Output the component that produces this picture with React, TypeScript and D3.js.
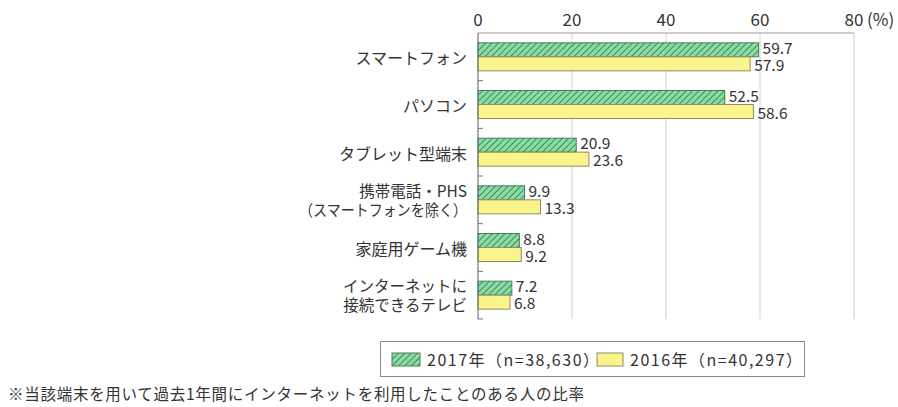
import React from "react";
import * as d3 from "d3";

const categories: string[][] = [
  ["スマートフォン"],
  ["パソコン"],
  ["タブレット型端末"],
  ["携帯電話・PHS", "（スマートフォンを除く）"],
  ["家庭用ゲーム機"],
  ["インターネットに", "接続できるテレビ"],
];
const values2017 = [59.7, 52.5, 20.9, 9.9, 8.8, 7.2];
const values2016 = [57.9, 58.6, 23.6, 13.3, 9.2, 6.8];
const xTicks = [0, 20, 40, 60, 80];
const legendLabels = ["2017年（n=38,630）", "2016年（n=40,297）"];
const footnote = "※当該端末を用いて過去1年間にインターネットを利用したことのある人の比率";

const W = 898;
const H = 407;
const FONT = "'Noto Sans CJK JP', 'Noto Sans', sans-serif";
const TEXT = "#333";

export default function App() {
  const x = d3.scaleLinear().domain([0, 80]).range([478, 854]);
  const idx = categories.map((_, i) => String(i));
  const y = d3.scaleBand().domain(idx).range([33, 319]).padding(0);
  const barH = 14;

  const boundaries = d3.range(1, categories.length + 1).map((i) => 33 + i * y.step());

  return (
    <svg
      width={W}
      height={H}
      style={{ position: "absolute", left: 0, top: 0, background: "#fff" }}
      fontFamily={FONT}
    >
      <defs>
        <pattern id="hatch" patternUnits="userSpaceOnUse" width="4.5" height="4.5" patternTransform="rotate(45)">
          <rect width="4.5" height="4.5" fill="#8edaa5" />
          <line x1="0" y1="0" x2="0" y2="4.5" stroke="#2c8a52" strokeWidth="1.8" />
        </pattern>
      </defs>

      {/* gridlines */}
      {xTicks.slice(1).map((t) => (
        <line key={"g" + t} x1={x(t)} x2={x(t)} y1={33} y2={319} stroke="#cfcfcf" strokeWidth={1} />
      ))}
      {/* top line */}
      <line x1={x(0)} x2={x(80)} y1={33} y2={33} stroke="#9a9a9a" strokeWidth={1.2} />

      {/* tick labels */}
      {xTicks.map((t) => (
        <text key={"t" + t} x={x(t)} y={26} fontSize={17} fill={TEXT} textAnchor="middle">
          {t}
        </text>
      ))}
      <text x={x(80) + 13} y={26} fontSize={17} fill={TEXT}>
        (%)
      </text>

      {/* bars */}
      {categories.map((_, i) => {
        const c = (y(String(i)) as number) + y.bandwidth() / 2;
        return (
          <g key={"b" + i}>
            <rect
              x={x(0)}
              y={c - barH}
              width={x(values2017[i]) - x(0)}
              height={barH}
              fill="url(#hatch)"
              stroke="#4a7d5a"
              strokeWidth={1}
            />
            <rect
              x={x(0)}
              y={c}
              width={x(values2016[i]) - x(0)}
              height={barH}
              fill="#fbf38c"
              stroke="#8d8d5e"
              strokeWidth={1}
            />
            <text x={x(values2017[i]) + 4} y={c - 8.5} dy="0.36em" fontSize={15.5} fill={TEXT}>
              {values2017[i].toFixed(1)}
            </text>
            <text x={x(values2016[i]) + 4} y={c + 8.5} dy="0.36em" fontSize={15.5} fill={TEXT}>
              {values2016[i].toFixed(1)}
            </text>
          </g>
        );
      })}

      {/* axis line */}
      <line x1={x(0)} x2={x(0)} y1={33} y2={319} stroke="#777" strokeWidth={1.2} />
      {boundaries.map((b, i) => (
        <line key={"k" + i} x1={x(0)} x2={x(0) + 5} y1={b} y2={b} stroke="#777" strokeWidth={1} />
      ))}

      {/* category labels */}
      {categories.map((lines, i) => {
        const c = (y(String(i)) as number) + y.bandwidth() / 2;
        if (lines.length === 1) {
          return (
            <text key={"c" + i} x={467} y={c + 2} dy="0.35em" fontSize={16} fill={TEXT} textAnchor="end">
              {lines[0]}
            </text>
          );
        }
        return (
          <g key={"c" + i}>
            <text x={467} y={c - 8.5} dy="0.35em" fontSize={15.5} fill={TEXT} textAnchor="end">
              {lines[0]}
            </text>
            <text
              x={467}
              y={c + 10.5}
              dy="0.35em"
              fontSize={15.5}
              fill={TEXT}
              textAnchor="end"
              textLength={i === 3 ? 168 : undefined}
              lengthAdjust="spacingAndGlyphs"
            >
              {lines[1]}
            </text>
          </g>
        );
      })}

      {/* legend */}
      <rect x={380.5} y={341.5} width={424} height={35} fill="#fff" stroke="#8a8a8a" strokeWidth={1} />
      <rect x={392} y={353} width={28} height={13} fill="url(#hatch)" stroke="#4a7d5a" strokeWidth={1} />
      <text x={427} y={360} dy="0.36em" fontSize={16} fill={TEXT} letterSpacing={1.5}>
        {legendLabels[0]}
      </text>
      <rect x={597} y={353} width={26} height={13} fill="#fbf38c" stroke="#8d8d5e" strokeWidth={1} />
      <text x={630} y={360} dy="0.36em" fontSize={16} fill={TEXT} letterSpacing={1.5}>
        {legendLabels[1]}
      </text>

      {/* footnote */}
      <text x={8} y={394} dy="0.36em" fontSize={15.5} fill={TEXT} textLength={576} lengthAdjust="spacing">
        {footnote}
      </text>
    </svg>
  );
}
